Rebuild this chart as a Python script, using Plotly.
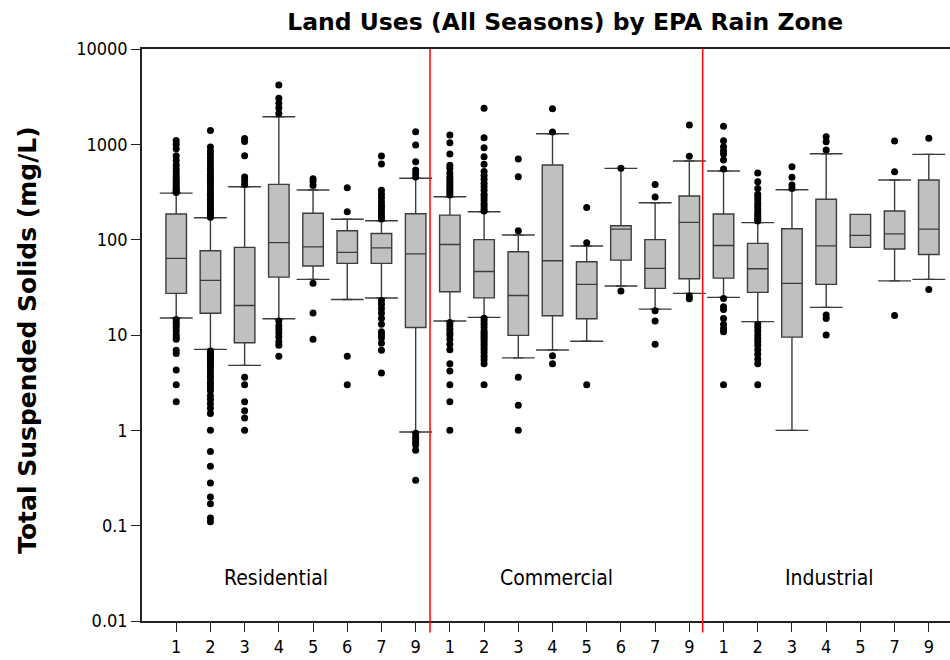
import plotly.graph_objects as go

# ---- data: Total Suspended Solids (mg/L) by land use and EPA rain zone ----
land_uses = ["Residential", "Commercial", "Industrial"]

res_zones = ["1", "2", "3", "4", "5", "6", "7", "9"]
res_low = [15.1, 7.06, 4.8, 14.8, 38.3, 23.6, 24.4, 0.96]
res_q1 = [27.3, 16.9, 8.3, 40.5, 52.9, 56.4, 56.4, 12]
res_med = [63.7, 37.4, 20.4, 93, 84, 73.6, 82, 71]
res_q3 = [186, 76.5, 83, 380, 189, 124, 116, 187]
res_high = [308, 170, 359, 1950, 332, 164, 158, 440]
res_out = [
    [1100, 1000, 900, 760, 680, 610, 560, 520, 480, 450, 420, 400, 380, 360, 345, 330, 320, 312,
     14.5, 13.5, 12.8, 12, 11, 10, 9.5, 9, 6.9, 6.4, 4.3, 3.0, 2.0],
    [1400, 940, 850, 780, 720, 660, 610, 560, 520, 480, 450, 420, 390, 365, 340, 320, 300, 280,
     265, 250, 235, 220, 208, 196, 186, 178, 172,
     6.8, 6.5, 6.2, 6.0, 5.7, 5.4, 5.1, 4.9, 4.6, 4.3, 4.0, 3.7, 3.5, 3.2, 3.0, 2.8, 2.6, 2.3,
     2.1, 1.9, 1.7, 1.5, 1.0, 0.6, 0.42, 0.28, 0.2, 0.17, 0.12, 0.11],
    [1150, 1070, 760, 455, 417, 380, 3.6, 3.0, 2.0, 1.6, 1.35, 1.0],
    [4190, 3040, 2700, 2400, 2100, 14, 12.5, 11.5, 10.5, 9.5, 8.5, 7.8, 6.0],
    [436, 407, 370, 35, 17, 9],
    [351, 196, 6.0, 3.0],
    [754, 621, 330, 300, 275, 250, 230, 215, 200, 185, 172, 165,
     23, 21, 19, 17, 15, 13, 10.8, 10, 9.3, 8.2, 6.9, 4.0],
    [1355, 984, 658, 537, 495, 455, 0.93, 0.85, 0.8, 0.75, 0.7, 0.62, 0.30],
]

com_zones = ["1", "2", "3", "4", "5", "6", "7", "9"]
com_low = [14, 15.3, 5.75, 6.95, 8.6, 32.6, 18.7, 27.3]
com_q1 = [28.4, 24.5, 9.9, 15.9, 14.8, 61, 30.8, 38.9]
com_med = [89, 46.4, 26, 60, 34, 129, 50, 152]
com_q3 = [181, 100, 74.7, 607, 58.6, 140, 100, 287]
com_high = [282, 196, 112, 1291, 85.7, 560, 244, 668]
com_out = [
    [1253, 1040, 790, 604, 560, 500, 460, 430, 400, 375, 350, 330, 310, 295,
     13.5, 12.5, 11.5, 10.5, 10, 9, 8, 7, 5, 4.2, 3.0, 2.0, 1.0],
    [2390, 1175, 920, 740, 620, 520, 470, 430, 390, 360, 330, 300, 280, 260, 240, 225, 210, 200,
     15, 14, 13, 12, 11, 10.5, 10, 9.5, 9, 8.5, 8, 7.5, 7, 6.5, 6, 5.5, 5, 3.0],
    [702, 457, 124, 3.6, 1.83, 1.0],
    [2365, 1350, 6.05, 5.0],
    [218, 93, 3.0],
    [560, 29],
    [380, 280, 18, 14, 8],
    [1595, 748, 25.7, 24],
]

ind_zones = ["1", "2", "3", "4", "5", "7", "9"]
ind_low = [24.8, 13.8, 1.0, 19.5, 83, 37, 38.3]
ind_q1 = [39.5, 28, 9.5, 34, 83, 79.7, 70]
ind_med = [87, 49.5, 34.8, 86, 111, 115, 129]
ind_q3 = [186, 91.5, 130, 265, 184, 200, 422]
ind_high = [525, 151, 334, 796, 184, 422, 785]
ind_out = [
    [1550, 1090, 944, 857, 790, 684, 550, 24.2, 19.8, 18.5, 14.9, 12.9, 11.6, 10.8, 3.0],
    [500, 405, 345, 300, 280, 260, 240, 225, 210, 195, 185, 175, 165, 157,
     13, 12, 11, 10, 9.2, 8.5, 7.8, 7.0, 6.3, 5.6, 5.0, 3.0],
    [582, 451, 374, 345],
    [1200, 1065, 871, 16.2, 14.9, 10],
    [],
    [1084, 516, 16],
    [1155, 30],
]

y_tick_vals = [0.01, 0.1, 1, 10, 100, 1000, 10000]
y_tick_text = ["0.01", "0.1", "1", "10", "100", "1000", "10000"]

# ---- assemble boxes on one numeric axis, one slot per zone ----
zones = res_zones + com_zones + ind_zones
low = res_low + com_low + ind_low
q1 = res_q1 + com_q1 + ind_q1
med = res_med + com_med + ind_med
q3 = res_q3 + com_q3 + ind_q3
high = res_high + com_high + ind_high
outliers = res_out + com_out + ind_out
pos = list(range(len(zones)))

BOX_LINE = "#3c3c3c"
TICK_FONT = "DejaVu Sans Condensed, Tahoma, sans-serif"
BOLD_FONT = "DejaVu Sans, Verdana, sans-serif"

fig = go.Figure()

fig.add_trace(go.Box(
    x=pos, q1=q1, median=med, q3=q3, lowerfence=low, upperfence=high,
    width=0.6, fillcolor="#c0c0c0",
    line=dict(color=BOX_LINE, width=1.4),
    boxpoints=False, showlegend=False, hoverinfo="skip",
))

# whisker caps
cap_x, cap_y = [], []
half = 0.48
for p, lo, a, b, hi in zip(pos, low, q1, q3, high):
    if hi > b:
        cap_x += [p - half, p + half, None]
        cap_y += [hi, hi, None]
    if lo < a:
        cap_x += [p - half, p + half, None]
        cap_y += [lo, lo, None]
fig.add_trace(go.Scatter(
    x=cap_x, y=cap_y, mode="lines",
    line=dict(color=BOX_LINE, width=1.4),
    showlegend=False, hoverinfo="skip",
))

# outlying observations
ox, oy = [], []
for p, vals in zip(pos, outliers):
    ox += [p] * len(vals)
    oy += vals
fig.add_trace(go.Scatter(
    x=ox, y=oy, mode="markers",
    marker=dict(color="black", size=7, symbol="circle"),
    showlegend=False, hoverinfo="skip",
))

# separators between land uses and their labels
n_res, n_com = len(res_zones), len(com_zones)
sep_positions = [n_res - 0.58, n_res + n_com - 0.61]
for sx in sep_positions:
    fig.add_shape(type="line", xref="x", yref="paper",
                  x0=sx, x1=sx, y0=-0.02, y1=1,
                  line=dict(color="#ff0000", width=1.5), layer="above")

label_x = [2.92, n_res + 3.13, n_res + n_com + 3.1]
for name, lx in zip(land_uses, label_x):
    fig.add_annotation(x=lx, y=-1.55, xref="x", yref="y", text=name,
                       showarrow=False, font=dict(family=TICK_FONT, size=21, color="black"))

fig.add_annotation(
    text="<b>Total Suspended Solids (mg/L)</b>", textangle=-90,
    xref="paper", yref="paper", x=-0.141, y=0.49, xanchor="center", yanchor="middle",
    showarrow=False,
    font=dict(family=BOLD_FONT, size=25, color="black"),
)

fig.update_layout(
    width=950, height=660,
    margin=dict(l=142, r=0, t=49, b=39),
    paper_bgcolor="white", plot_bgcolor="white",
    title=dict(text="<b>Land Uses (All Seasons) by EPA Rain Zone</b>",
               x=0.595, xref="container", y=1 - 22 / 660, yref="container",
               xanchor="center", yanchor="middle",
               font=dict(family=BOLD_FONT, size=23.5, color="black")),
    font=dict(family=TICK_FONT, size=18, color="black"),
)
fig.update_xaxes(
    range=[-1.0, 22.62], tickmode="array", tickvals=pos, ticktext=zones,
    ticks="outside", ticklen=9, tickwidth=1.2, tickcolor="#222",
    showline=True, linecolor="#222", linewidth=1.5, mirror=True,
    showgrid=False, zeroline=False,
)
fig.update_yaxes(
    type="log", range=[-2, 4], tickmode="array", tickvals=y_tick_vals, ticktext=y_tick_text,
    ticks="outside", ticklen=9, tickwidth=1.2, tickcolor="#222",
    showline=True, linecolor="#222", linewidth=1.5,
    showgrid=False, zeroline=False,
)

fig.write_html("out.html")
